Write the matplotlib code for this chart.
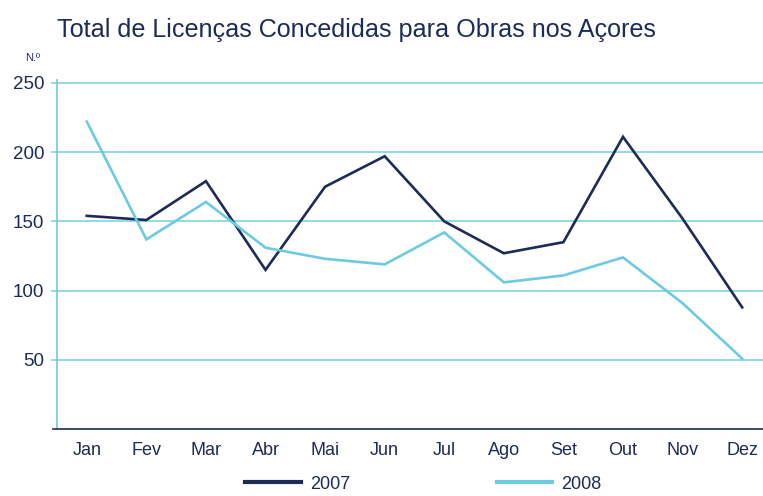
import numpy as np
import matplotlib
matplotlib.use('Agg')
import matplotlib.pyplot as plt
from matplotlib.lines import Line2D

# ── Dados ──
meses = ['Jan', 'Fev', 'Mar', 'Abr', 'Mai', 'Jun', 'Jul', 'Ago', 'Set', 'Out', 'Nov', 'Dez']
lic_2007 = [154, 151, 179, 115, 175, 197, 150, 127, 135, 211, 152, 88]
lic_2008 = [222, 137, 164, 131, 123, 119, 142, 106, 111, 124, 91, 51]
y_ticks = [50, 100, 150, 200, 250]

NAVY = '#1c2b57'
LIGHT = '#6ccbe0'
GRID = '#7fd3e4'

plt.rcParams['font.family'] = ['Liberation Sans', 'DejaVu Sans']

fig = plt.figure(figsize=(7.63, 4.96), dpi=100)
ax = fig.add_axes([0.0747, 0.1345, 0.9253, 0.7042])

x = np.arange(len(meses))
ax.plot(x, lic_2007, color=NAVY, lw=1.9, solid_joinstyle='miter')
ax.plot(x, lic_2008, color=LIGHT, lw=1.9, solid_joinstyle='miter')

ax.set_xlim(-0.5, 11.35)
ax.set_ylim(0, 252)
ax.set_yticks(y_ticks)
ax.set_yticklabels([str(v) for v in y_ticks], fontsize=13.5, color=NAVY)
ax.set_xticks(x)
ax.set_xticklabels(meses, fontsize=13, color=NAVY)
ax.tick_params(axis='x', length=0, pad=9)
ax.tick_params(axis='y', length=4, color=GRID, width=1.2, pad=5)
ax.yaxis.grid(True, color=GRID, lw=1.2)
ax.set_axisbelow(True)

for s in ['top', 'right']:
    ax.spines[s].set_visible(False)
ax.spines['left'].set_color(LIGHT)
ax.spines['left'].set_linewidth(1.2)
ax.spines['bottom'].set_color(NAVY)
ax.spines['bottom'].set_linewidth(1.2)
ax.spines['bottom'].set_bounds(-0.57, 11.35)

fig.text(0.0747, 0.94, 'Total de Licenças Concedidas para Obras nos Açores',
         fontsize=18.1, color=NAVY, ha='left', va='center')
fig.text(0.052, 0.883, 'N.º', fontsize=8, color=NAVY, ha='right', va='center')

handles = [Line2D([], [], color=NAVY, lw=3), Line2D([], [], color=LIGHT, lw=3)]
fig.legend(handles, ['2007', '2008'], loc='center', bbox_to_anchor=(0.555, 0.024),
           ncol=2, frameon=False, fontsize=13, handlelength=3.1, columnspacing=8.1,
           handletextpad=0.5, labelcolor=NAVY, borderpad=0.1)

plt.savefig('out.png', dpi=100)
